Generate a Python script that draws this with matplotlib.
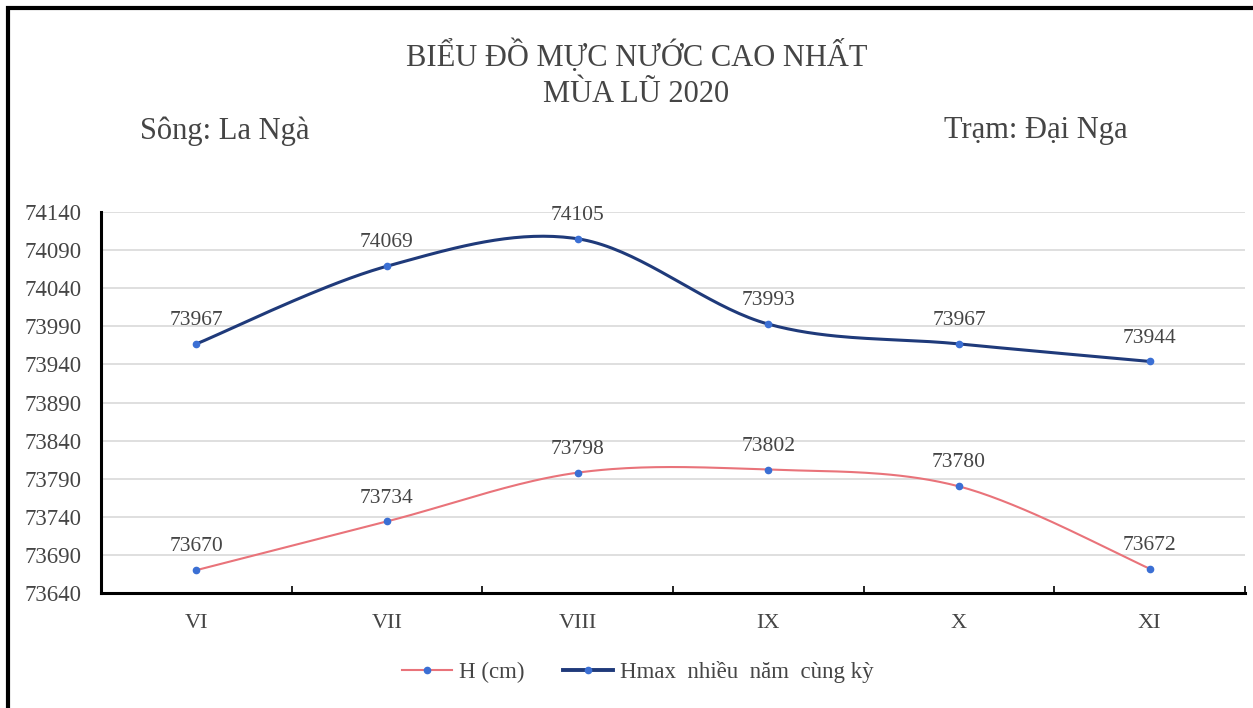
import numpy as np
import matplotlib.pyplot as plt
from matplotlib.patches import Rectangle

plt.rcParams['font.family'] = ['Liberation Serif', 'DejaVu Serif']

months = ['VI', 'VII', 'VIII', 'IX', 'X', 'XI']
h_cm = [73670, 73734, 73798, 73802, 73780, 73672]
hmax = [73967, 74069, 74105, 73993, 73967, 73944]


def smooth(xs, ys, n=40):
    # Excel style smoothed line (Catmull-Rom through bezier control points)
    xs = np.asarray(xs, float)
    ys = np.asarray(ys, float)
    px = np.concatenate([[xs[0]], xs, [xs[-1]]])
    py = np.concatenate([[ys[0]], ys, [ys[-1]]])
    outx, outy = [], []
    t = np.linspace(0, 1, n)
    for i in range(1, len(px) - 2):
        p0 = np.array([px[i], py[i]])
        p3 = np.array([px[i + 1], py[i + 1]])
        c1 = p0 + (np.array([px[i + 1], py[i + 1]]) - np.array([px[i - 1], py[i - 1]])) / 6
        c2 = p3 - (np.array([px[i + 2], py[i + 2]]) - np.array([px[i], py[i]])) / 6
        b = ((1 - t) ** 3)[:, None] * p0 + (3 * (1 - t) ** 2 * t)[:, None] * c1 \
            + (3 * (1 - t) * t ** 2)[:, None] * c2 + (t ** 3)[:, None] * p3
        outx.extend(b[:, 0])
        outy.extend(b[:, 1])
    return np.array(outx), np.array(outy)


fig = plt.figure(figsize=(12.53, 7.08), dpi=100)
ax = fig.add_axes([0.0806, 0.1624, 0.913, 0.538])

x = np.arange(len(months))
red = '#e9737a'
navy = '#1f3a7a'
mk = '#3b6fd4'
txt = '#454545'

sx, sy = smooth(x, h_cm)
ax.plot(sx, sy, color=red, lw=1.5, zorder=3)
ax.plot(x, h_cm, 'o', color=mk, ms=4.5, zorder=4)
sx, sy = smooth(x, hmax)
ax.plot(sx, sy, color=navy, lw=2.2, zorder=3)
ax.plot(x, hmax, 'o', color=mk, ms=4.5, zorder=4)

for xi, v in zip(x, h_cm):
    ax.annotate(str(v), (xi, v), xytext=(0, 10), textcoords='offset points',
                ha='center', va='bottom', fontsize=15.5, color=txt)
for xi, v in zip(x, hmax):
    ax.annotate(str(v), (xi, v), xytext=(0, 10), textcoords='offset points',
                ha='center', va='bottom', fontsize=15.5, color=txt)

# legend proxies
ax.plot([], [], color=red, lw=1.5, marker='o', mfc=mk, mec=mk, ms=4.5, label='H (cm)')
ax.plot([], [], color=navy, lw=2.8, marker='o', mfc=mk, mec=mk, ms=4.5,
        label='Hmax  nhiều  năm  cùng kỳ')

ax.set_xlim(-0.5, 5.5)
ax.set_ylim(73640, 74140)
ax.set_yticks(np.arange(73640, 74141, 50))
ax.set_xticks(x)
ax.set_xticklabels(months)
ax.set_xticks(np.arange(-0.5, 6, 1), minor=True)
ax.tick_params(axis='x', which='major', length=0, pad=15, labelsize=16, labelcolor=txt)
ax.tick_params(axis='x', which='minor', length=5, direction='in', width=1.2, color='black')
ax.tick_params(axis='y', length=0, pad=14, labelsize=16.5, labelcolor=txt)
ax.grid(axis='y', color='#d9d9d9', lw=1.2)
ax.set_axisbelow(True)
for s in ['top', 'right']:
    ax.spines[s].set_visible(False)
ax.spines['left'].set_linewidth(2.2)
ax.spines['bottom'].set_linewidth(2.2)

fig.text(0.508, 0.921, 'BIỂU ĐỒ MỰC NƯỚC CAO NHẤT', ha='center', va='center',
         fontsize=22, color=txt)
fig.text(0.508, 0.866, 'MÙA LŨ 2020', ha='center', va='center',
         fontsize=22, color=txt)
fig.text(0.112, 0.815, 'Sông: La Ngà', ha='left', va='center', fontsize=22, color=txt)
fig.text(0.753, 0.815, 'Trạm: Đại Nga', ha='left', va='center', fontsize=22, color=txt)

fig.legend(loc='center', bbox_to_anchor=(0.509, 0.051), ncol=2, frameon=False,
           fontsize=16.5, handlelength=2.2, handletextpad=0.3, columnspacing=1.65,
           labelcolor=txt)

fig.patches.append(Rectangle((8 / 1253, -0.1), 1.2, (700 / 708) + 0.1,
                             transform=fig.transFigure, fill=False,
                             edgecolor='black', lw=3))

fig.savefig('out.png', dpi=100)
